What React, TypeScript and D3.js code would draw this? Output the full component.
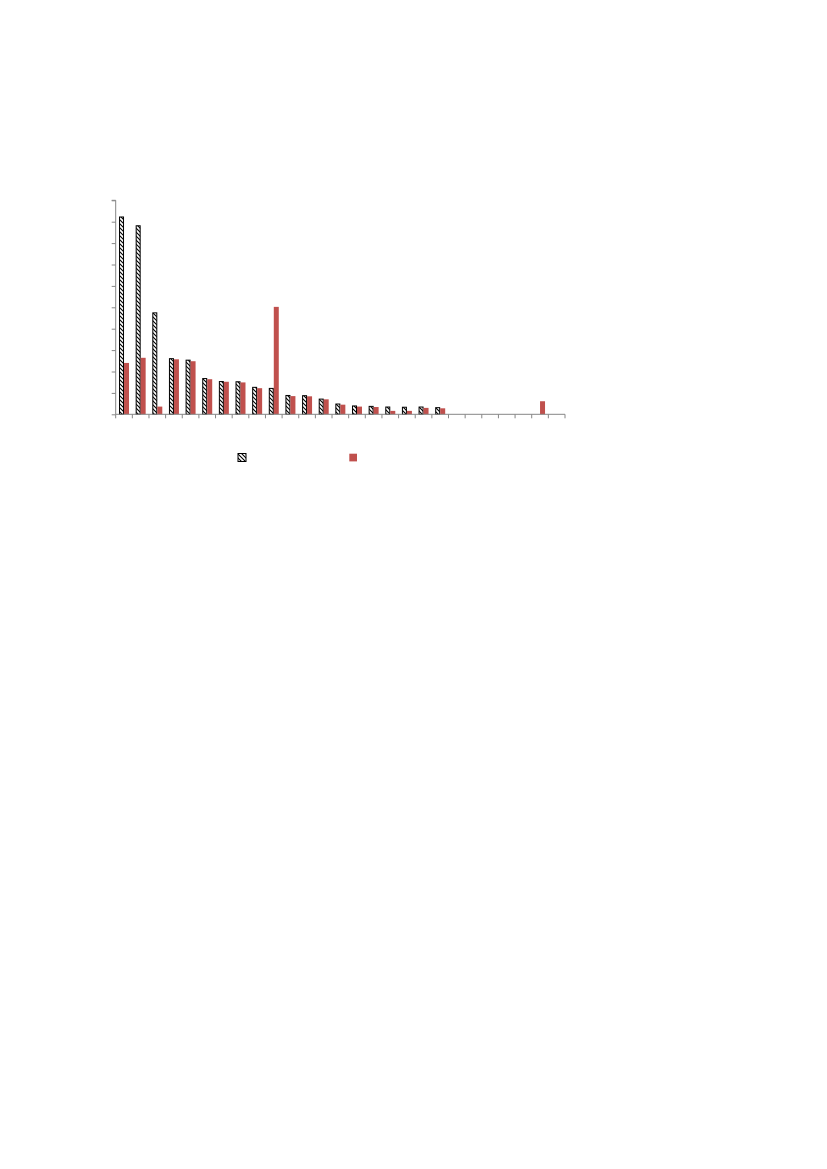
import React, { useEffect, useRef } from "react";
import * as d3 from "d3";

// category slots along the x axis (no labels shown in the chart)
const categories = d3.range(1, 28).map((i) => `C${i}`);

// first series (hatched bars), 0..100 scale
const seriesA = [
  92.2, 88.1, 47.4, 26.0, 25.3, 16.7, 15.3, 15.2, 12.6, 12.1, 8.8, 8.7, 7.1, 4.8,
  3.9, 3.7, 3.4, 3.3, 3.4, 3.1, 0, 0, 0, 0, 0, 0, 0,
];

// second series (red bars)
const seriesB = [
  24.0, 26.4, 3.6, 25.7, 24.8, 16.4, 15.2, 14.9, 12.2, 50.2, 8.5, 8.4, 7.0, 4.5,
  3.6, 3.4, 1.6, 1.6, 3.0, 2.8, 0, 0, 0, 0, 0, 6.1, 0,
];

const yTicks = d3.range(0, 101, 10);
const seriesKeys = ["a", "b"];

const App: React.FC = () => {
  const svgRef = useRef<SVGSVGElement | null>(null);

  useEffect(() => {
    if (!svgRef.current) return;
    const svg = d3.select(svgRef.current);
    svg.selectAll("*").remove();

    // plot area in page coordinates
    const left = 115.7;
    const right = 565;
    const top = 200.3;
    const bottom = 414.3;

    // hatch pattern for the first series
    const defs = svg.append("defs");
    const pat = defs
      .append("pattern")
      .attr("id", "hatch")
      .attr("patternUnits", "userSpaceOnUse")
      .attr("width", 4)
      .attr("height", 4);
    pat.append("rect").attr("width", 4).attr("height", 4).attr("fill", "#fff");
    pat
      .append("path")
      .attr("d", "M0,0 L4,4 M-1,3 L1,5 M3,-1 L5,1")
      .attr("stroke", "#000")
      .attr("stroke-width", 1.1);

    const x0 = d3.scaleBand<string>().domain(categories).range([left, right]).padding(0);
    const bw = x0.bandwidth();
    const x1 = d3
      .scaleBand<string>()
      .domain(seriesKeys)
      .range([bw * 0.2, bw * 0.8])
      .padding(0);
    const y = d3.scaleLinear().domain([0, 100]).range([bottom, top]);

    const rows = categories.map((c, i) => ({ cat: c, a: seriesA[i], b: seriesB[i] }));

    // bars
    const g = svg.append("g");
    g.selectAll(".barA")
      .data(rows.filter((d) => d.a > 0))
      .join("rect")
      .attr("class", "barA")
      .attr("x", (d) => (x0(d.cat) as number) + (x1("a") as number) + 0.5)
      .attr("y", (d) => y(d.a))
      .attr("width", x1.bandwidth() - 1)
      .attr("height", (d) => bottom - y(d.a))
      .attr("fill", "url(#hatch)")
      .attr("stroke", "#000")
      .attr("stroke-width", 1);

    g.selectAll(".barB")
      .data(rows.filter((d) => d.b > 0))
      .join("rect")
      .attr("class", "barB")
      .attr("x", (d) => (x0(d.cat) as number) + (x1("b") as number))
      .attr("y", (d) => y(d.b))
      .attr("width", x1.bandwidth())
      .attr("height", (d) => bottom - y(d.b))
      .attr("fill", "#c0504d");

    // y axis
    const yAxis = d3
      .axisLeft(y)
      .tickValues(yTicks)
      .tickSize(4)
      .tickFormat(() => "");
    const ya = svg.append("g").attr("transform", `translate(${left},0)`).call(yAxis);
    ya.selectAll("path,line").attr("stroke", "#868686");
    ya.select(".domain").attr("d", `M-4,${top}H0V${bottom}`);

    // x axis with ticks at band boundaries
    const xa = svg.append("g").attr("transform", `translate(0,${bottom})`);
    xa.append("line")
      .attr("x1", left)
      .attr("x2", right)
      .attr("stroke", "#868686");
    xa.selectAll(".xt")
      .data(d3.range(categories.length + 1))
      .join("line")
      .attr("class", "xt")
      .attr("x1", (i) => left + i * bw)
      .attr("x2", (i) => left + i * bw)
      .attr("y1", 0)
      .attr("y2", 4)
      .attr("stroke", "#868686");

    // legend (symbols only)
    const legend = svg.append("g");
    legend
      .append("rect")
      .attr("x", 238)
      .attr("y", 453.5)
      .attr("width", 8)
      .attr("height", 8)
      .attr("fill", "url(#hatch)")
      .attr("stroke", "#000");
    legend
      .append("rect")
      .attr("x", 349.3)
      .attr("y", 453.7)
      .attr("width", 7.7)
      .attr("height", 7.7)
      .attr("fill", "#c0504d");
  }, []);

  return (
    <svg
      ref={svgRef}
      width={827}
      height={1169}
      style={{ position: "absolute", left: 0, top: 0, background: "#fff" }}
    />
  );
};

export default App;
